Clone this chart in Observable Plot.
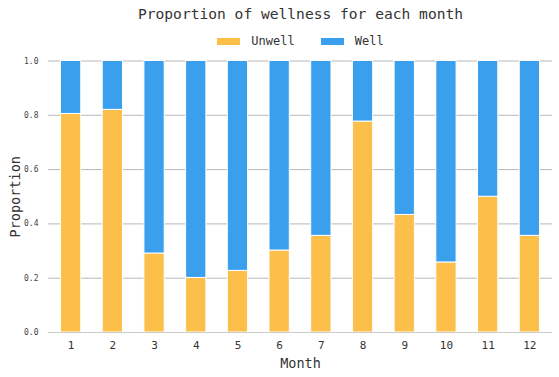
<!DOCTYPE html>
<html>
<head>
<meta charset="utf-8">
<script src="https://cdn.jsdelivr.net/npm/d3@7"></script>
<script src="https://cdn.jsdelivr.net/npm/@observablehq/plot@0.6"></script>
<style>
  body { margin: 0; background: #fff; font-family: "DejaVu Sans Mono", monospace; color: #333; }
  #wrap { width: 559px; }
  #title { height: 28px; line-height: 28px; font-size: 14.6px; text-align: center; padding-left: 42px; box-sizing: border-box; color: #333; }
  #legend { height: 26px; display: flex; justify-content: center; align-items: center; font-size: 12px; padding-left: 42px; box-sizing: border-box; color: #333; }
  .item { display: flex; align-items: center; margin: 0 13px; }
  .sw { width: 23px; height: 7px; margin-right: 11px; }
  svg { display: block; }
</style>
</head>
<body>
<div id="wrap">
  <div id="title">Proportion of wellness for each month</div>
  <div id="legend"></div>
  <div id="chart"></div>
</div>
<script>
const months = [1, 2, 3, 4, 5, 6, 7, 8, 9, 10, 11, 12];
const unwell = [0.805, 0.820, 0.291, 0.201, 0.227, 0.302, 0.356, 0.777, 0.433, 0.258, 0.500, 0.356];
const well   = [0.195, 0.180, 0.709, 0.799, 0.773, 0.698, 0.644, 0.223, 0.567, 0.742, 0.500, 0.644];
const statuses = ["Unwell", "Well"];
const colors = ["#fcbf49", "#3a9fec"];
const yTicks = [0, 0.2, 0.4, 0.6, 0.8, 1.0];

const rows = [];
months.forEach((m, i) => {
  rows.push({month: m, status: "Unwell", value: unwell[i]});
  rows.push({month: m, status: "Well", value: well[i]});
});

const legend = document.getElementById("legend");
statuses.forEach((s, i) => {
  const it = document.createElement("div");
  it.className = "item";
  it.innerHTML = `<span class="sw" style="background:${colors[i]}"></span><span>${s}</span>`;
  legend.appendChild(it);
});

const chart = Plot.plot({
  width: 559,
  height: 323,
  marginTop: 6.5,
  marginBottom: 45,
  marginLeft: 48,
  marginRight: 7,
  style: { fontFamily: "DejaVu Sans Mono, monospace", color: "#333", background: "#fff" },
  x: { type: "band", domain: months, round: false, paddingInner: 0.514, paddingOuter: 0.3, label: null },
  y: { domain: [0, 1], label: null },
  color: { domain: statuses, range: colors },
  marks: [
    Plot.gridY(yTicks, { stroke: "#b8b8b8", strokeOpacity: 1, strokeWidth: 1 }),
    Plot.barY(rows, Plot.stackY({ order: statuses }, {
      x: "month", y: "value", fill: "status", stroke: "#fff", strokeWidth: 1
    })),
    Plot.ruleY([0], { stroke: "#cccccc", strokeWidth: 1.2 }),
    Plot.axisY(yTicks, { tickSize: 0, tickPadding: 10, fontSize: 8, tickFormat: d3.format(".1f"), label: null, fill: "#444" }),
    Plot.axisX({ tickSize: 0, tickPadding: 9, fontSize: 11, label: null, fill: "#333" }),
    Plot.text(["Month"], { frameAnchor: "bottom", dy: 35, fontSize: 13.5, fill: "#333" }),
    Plot.text(["Proportion"], { frameAnchor: "left", dx: -33, rotate: -90, textAnchor: "middle", fontSize: 13.5, fill: "#333" })
  ]
});
document.getElementById("chart").appendChild(chart);
</script>
</body>
</html>
